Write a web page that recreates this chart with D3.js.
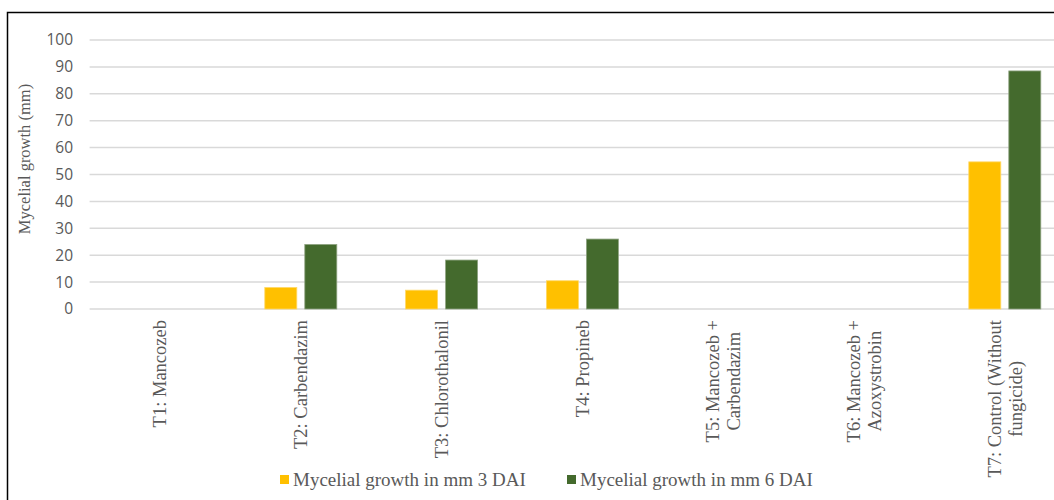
<!DOCTYPE html>
<html><head><meta charset="utf-8">
<script src="https://cdnjs.cloudflare.com/ajax/libs/d3/7.8.5/d3.min.js"></script>
<style>html,body{margin:0;padding:0;background:#fff;overflow:hidden}</style>
</head><body>
<script>
const categories = [
  ["T1: Mancozeb"],
  ["T2: Carbendazim"],
  ["T3: Chlorothalonil"],
  ["T4: Propineb"],
  ["T5: Mancozeb +", "Carbendazim"],
  ["T6: Mancozeb +", "Azoxystrobin"],
  ["T7: Control (Without", "fungicide)"]
];
const seriesNames = ["Mycelial growth in mm 3 DAI", "Mycelial growth in mm 6 DAI"];
const dai3 = [0, 8, 7, 10.5, 0, 0, 54.7];
const dai6 = [0, 24, 18.2, 26, 0, 0, 88.5];
const yTicks = [0, 10, 20, 30, 40, 50, 60, 70, 80, 90, 100];
const colors = ["#FFC000", "#446A2D"];

const W = 1054, H = 500;
const svg = d3.select("body").append("svg").attr("width", W).attr("height", H);

// outer frame (cropped at right/bottom)
svg.append("rect").attr("x", 7.5).attr("y", 12.5).attr("width", 1200).attr("height", 700)
  .attr("fill", "none").attr("stroke", "#000").attr("stroke-width", 1.5);

const plotL = 89.6, plotR = 1075.2, y0 = 309, y100 = 40;
const p = 0.4886;
const x0 = d3.scaleBand().domain(d3.range(categories.length)).range([plotL, plotR])
  .paddingInner(p).paddingOuter(p / 2);
const x1 = d3.scaleBand().domain([0, 1]).range([0, x0.bandwidth()]).paddingInner(0.2);
const y = d3.scaleLinear().domain([0, 100]).range([y0, y100]);

// gridlines
svg.append("g").selectAll("line").data(yTicks).join("line")
  .attr("x1", plotL).attr("x2", plotR)
  .attr("y1", d => y(d)).attr("y2", d => y(d))
  .attr("stroke", "#d9d9d9").attr("stroke-width", 1.5);

// y axis labels
const yAxis = d3.axisLeft(y).tickValues(yTicks).tickSize(0).tickPadding(0);
const ya = svg.append("g").attr("transform", `translate(73,0)`).call(yAxis);
ya.select(".domain").remove();
ya.selectAll("text").attr("font-family", "'Open Sans', sans-serif").attr("font-size", 15.5)
  .attr("fill", "#595959");

// y title
svg.append("text").attr("transform", "translate(30,159) rotate(-90)")
  .attr("text-anchor", "middle").attr("font-family", "'Liberation Serif', 'Times New Roman', serif")
  .attr("font-size", 16.5).attr("fill", "#595959").text("Mycelial growth (mm)");

// bars
const rows = categories.map((c, i) => ({ i, vals: [dai3[i], dai6[i]] }));
const groups = svg.append("g").selectAll("g").data(rows).join("g")
  .attr("transform", d => `translate(${x0(d.i)},0)`);
groups.selectAll("rect").data(d => d.vals.map((v, s) => ({ v, s }))).join("rect")
  .filter(d => d.v > 0)
  .attr("x", d => x1(d.s)).attr("width", x1.bandwidth())
  .attr("y", d => y(d.v)).attr("height", d => y0 - y(d.v))
  .attr("fill", d => colors[d.s])
  .attr("stroke", d => d.s === 0 ? "#ffd866" : "#8fa382").attr("stroke-width", 0.8);

// x labels
const lh = 21.5;
const xl = svg.append("g").selectAll("g").data(categories).join("g")
  .attr("transform", (d, i) => `translate(${x0(i) + x0.bandwidth() / 2},320) rotate(-90)`);
xl.each(function (lines) {
  const g = d3.select(this);
  const texts = lines.map((t, k) => g.append("text")
    .attr("font-family", "'Liberation Serif', 'Times New Roman', serif")
    .attr("font-size", 18.5).attr("fill", "#595959")
    .attr("dy", "0.35em")
    .attr("y", (k - (lines.length - 1) / 2) * lh)
    .text(t));
  const maxW = d3.max(texts, t => t.node().getComputedTextLength());
  texts.forEach(t => t.attr("text-anchor", "middle").attr("x", -maxW / 2));
});

// legend
const legX = [280, 567];
const leg = svg.append("g").selectAll("g").data(seriesNames).join("g")
  .attr("transform", (d, i) => `translate(${legX[i]},0)`);
leg.append("rect").attr("x", 0).attr("y", 475).attr("width", 9).attr("height", 9)
  .attr("fill", (d, i) => colors[i]);
leg.append("text").attr("x", 13).attr("y", 486)
  .attr("font-family", "'Liberation Serif', 'Times New Roman', serif")
  .attr("font-size", 19).attr("fill", "#595959").text(d => d);
</script>
</body></html>
